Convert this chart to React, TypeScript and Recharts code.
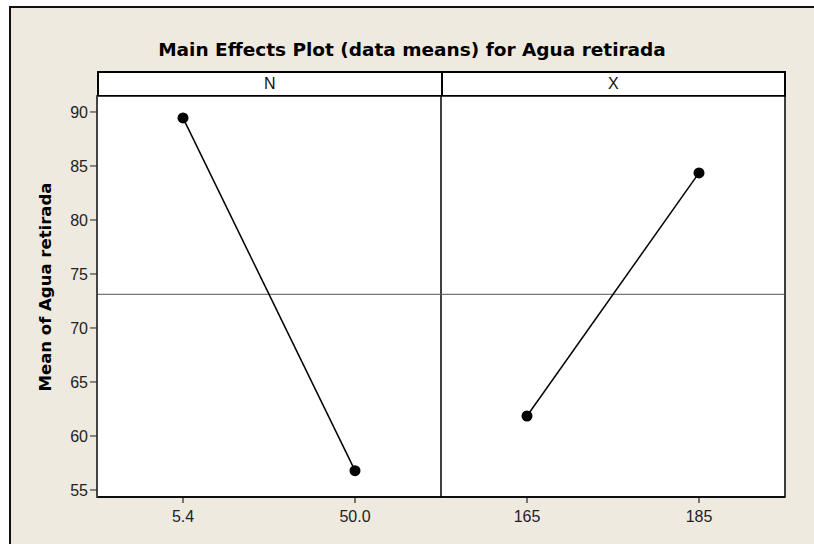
import React from "react";
import {
  ComposedChart,
  Line,
  XAxis,
  YAxis,
  CartesianGrid,
  ReferenceLine,
  ReferenceArea,
  Label,
} from "recharts";

const categories = ["5.4", "50.0", "165", "185"];
const nMeans = [89.45, 56.79];
const xMeans = [61.85, 84.36];
const grandMean = 73.12;
const yTicks = [55, 60, 65, 70, 75, 80, 85, 90];
const yDomain = [54.35, 91.48];
const panels = ["N", "X"];

const data = categories.map((cat, i) => ({
  cat,
  idx: i + 0.5,
  N: i < 2 ? nMeans[i] : null,
  X: i >= 2 ? xMeans[i - 2] : null,
}));

const FONT = "'Liberation Sans', Arial, sans-serif";
const BOLD_FONT = "'DejaVu Sans', Verdana, sans-serif";

const YLabel = (props: any) => {
  const vb = props.viewBox || { x: 37, y: 96, width: 60, height: 401 };
  const cx = vb.x + 8;
  const cy = 287;
  return (
    <text
      x={cx}
      y={cy}
      transform={`rotate(-90, ${cx}, ${cy})`}
      textAnchor="middle"
      dominantBaseline="central"
      fontFamily={BOLD_FONT}
      fontWeight="bold"
      fontSize={16.5}
      fill="#000"
    >
      Mean of Agua retirada
    </text>
  );
};

export default function App() {
  return (
    <div
      style={{
        position: "absolute",
        left: 0,
        top: 0,
        width: 814,
        height: 544,
        background: "#fff",
        overflow: "hidden",
        fontFamily: FONT,
      }}
    >
      <div
        style={{
          position: "absolute",
          left: 9,
          top: 6,
          right: 0,
          bottom: 0,
          background: "#EEEAE0",
          borderLeft: "2px solid #111",
          borderTop: "2px solid #111",
        }}
      />
      <div
        style={{
          position: "absolute",
          left: 10,
          width: 804,
          top: 38,
          lineHeight: "24px",
          fontSize: 18.5,
          fontFamily: BOLD_FONT,
          fontWeight: "bold",
          textAlign: "center",
          color: "#000",
        }}
      >
        Main Effects Plot (data means) for Agua retirada
      </div>
      <div
        style={{
          position: "absolute",
          left: 97,
          top: 71,
          width: 689,
          height: 26,
          boxSizing: "border-box",
          border: "2px solid #000",
          background: "#fff",
          display: "flex",
        }}
      >
        {panels.map((p, i) => (
          <div
            key={p}
            style={{
              flex: 1,
              textAlign: "center",
              fontSize: 16,
              lineHeight: "22px",
              color: "#111",
              borderLeft: i > 0 ? "2px solid #000" : "none",
            }}
          >
            {p}
          </div>
        ))}
      </div>
      <div style={{ position: "absolute", left: 0, top: 0 }}>
        <ComposedChart
          width={814}
          height={544}
          data={data}
          margin={{ top: 96, right: 29, bottom: 17, left: 37 }}
        >
          <CartesianGrid horizontal={false} vertical={false} fill="#fff" />
          <XAxis
            dataKey="cat"
            height={30}
            tickSize={6}
            tickMargin={8}
            padding={{ left: 86, right: 86 }}
            tickLine={{ stroke: "#000" }}
            axisLine={{ stroke: "#000", strokeWidth: 1.5 }}
            tick={{ fill: "#222", fontSize: 16, fontFamily: FONT }}
            interval={0}
          />
          <XAxis
            xAxisId="num"
            dataKey="idx"
            type="number"
            domain={[0, 4]}
            hide
          />
          <YAxis
            domain={yDomain}
            ticks={yTicks}
            allowDataOverflow
            width={60}
            tickSize={7}
            tickLine={{ stroke: "#222" }}
            axisLine={{ stroke: "#444", strokeWidth: 2 }}
            tick={{ fill: "#222", fontSize: 16, fontFamily: FONT }}
          >
            <Label content={<YLabel />} />
          </YAxis>
          <ReferenceArea
            xAxisId="num"
            x1={0}
            x2={4}
            y1={yDomain[0]}
            y2={yDomain[1]}
            fill="none"
            fillOpacity={0}
            stroke="#000"
            strokeWidth={1.5}
            ifOverflow="visible"
          />
          <ReferenceLine
            xAxisId="num"
            x={2}
            stroke="#000"
            strokeWidth={1.5}
          />
          <ReferenceLine y={grandMean} stroke="#555" strokeWidth={1} />
          <Line
            dataKey="N"
            stroke="#000"
            strokeWidth={1.5}
            dot={{ r: 5.5, fill: "#000", stroke: "#000", strokeWidth: 0 }}
            activeDot={false}
            isAnimationActive={false}
          />
          <Line
            dataKey="X"
            stroke="#000"
            strokeWidth={1.5}
            dot={{ r: 5.5, fill: "#000", stroke: "#000", strokeWidth: 0 }}
            activeDot={false}
            isAnimationActive={false}
          />
        </ComposedChart>
      </div>
    </div>
  );
}
